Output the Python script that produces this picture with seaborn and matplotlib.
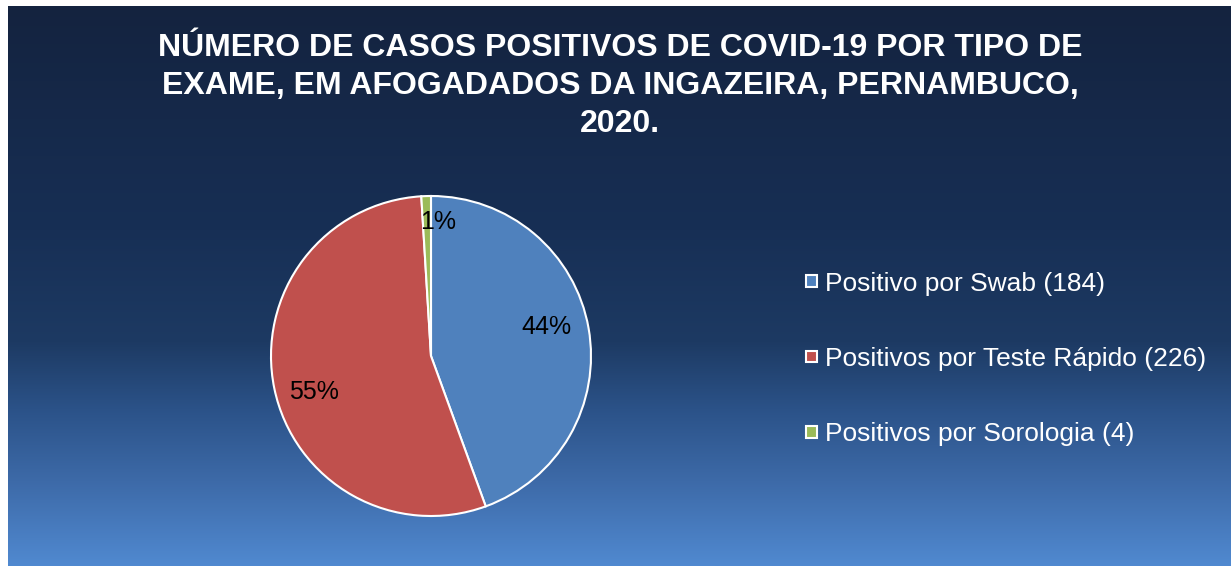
import numpy as np
import matplotlib
matplotlib.use("Agg")
import matplotlib.pyplot as plt
import seaborn as sns
from matplotlib.colors import LinearSegmentedColormap

categories = ["Positivo por Swab (184)", "Positivos por Teste Rápido (226)", "Positivos por Sorologia (4)"]
values = [184, 226, 4]
colors = ["#4f81bd", "#c0504d", "#9bbb59"]
title = "NÚMERO DE CASOS POSITIVOS DE COVID-19 POR TIPO DE\nEXAME, EM AFOGADADOS DA INGAZEIRA, PERNAMBUCO,\n2020."

sns.set_style("white")
plt.rcParams['font.family'] = ['Liberation Sans', 'DejaVu Sans']

W, H = 1232, 567
fig = plt.figure(figsize=(W / 100, H / 100), dpi=100)
fig.patch.set_facecolor("white")

# gradient background
bg = fig.add_axes([8 / W, 1 - 566 / H, (1231 - 8) / W, (566 - 6) / H])
cmap = LinearSegmentedColormap.from_list(
    "bg", [(0.0, "#14233f"), (0.4, "#172f55"), (0.6, "#1d3a63"),
           (0.72, "#2b5288"), (0.85, "#3d6aa8"), (1.0, "#5089d0")])
grad = np.linspace(0, 1, 256).reshape(-1, 1)
bg.imshow(grad, aspect="auto", cmap=cmap, extent=[0, 1, 0, 1], origin="upper")
bg.set_axis_off()

# pie axes
cx, cy, r = 431, 356, 160
ax = fig.add_axes([(cx - r) / W, (H - cy - r) / H, 2 * r / W, 2 * r / H])
ax.patch.set_alpha(0)
wedges, texts, autotexts = ax.pie(
    values, colors=colors, startangle=90, counterclock=False,
    autopct=lambda p: f"{p:.0f}%", pctdistance=0.75,
    wedgeprops=dict(edgecolor="white", linewidth=1.5),
    textprops=dict(color="black", fontsize=18))
ax.set_xlim(-1, 1)
ax.set_ylim(-1, 1)
ax.set_axis_off()
# nudge labels (best-fit placement)
x, y = autotexts[0].get_position()
autotexts[0].set_position((x - 0.02, y + 0.05))
x, y = autotexts[1].get_position()
autotexts[1].set_position((x, y - 0.07))
x, y = autotexts[2].get_position()
autotexts[2].set_position((x / 0.75 * 0.84 + 0.07, y / 0.75 * 0.84))

fig.text(0.5 + 8 / W / 2, 1 - 86 / H, title, ha="center", va="center",
         fontsize=23, fontweight="bold", color="white", linespacing=1.33)

fig.legend(wedges, categories, loc="center left", bbox_to_anchor=(782 / W, 1 - 359 / H),
           frameon=False, labelcolor="white", fontsize=19, labelspacing=1.95,
           handlelength=0.42, handleheight=0.3, handletextpad=0.3)

fig.savefig("out.png", dpi=100, facecolor="white")
